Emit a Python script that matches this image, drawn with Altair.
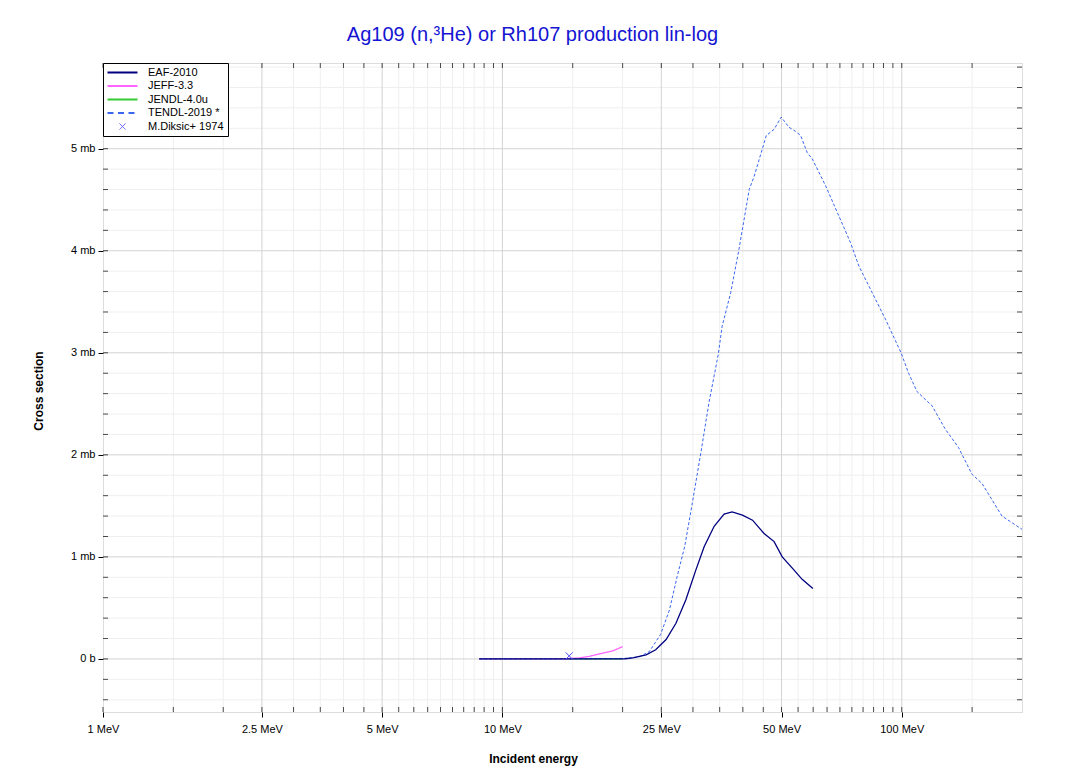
import altair as alt
import pandas as pd

TITLE = "Ag109 (n,³He) or Rh107 production lin-log"
SERIES = ["EAF-2010", "JEFF-3.3", "JENDL-4.0u", "TENDL-2019 *", "M.Diksic+ 1974"]
COLORS = ["#000080", "#ff66ff", "#33cc33", "#3a66f0", "#4b4bff"]

# Energies in MeV, cross sections in mb
EAF_E = [8.75, 12, 16, 20.3, 21.2, 22.9, 24.2, 25.7, 27.2, 28.8, 30.5, 32.0, 33.9, 35.9,
         37.6, 39.9, 42.3, 45.2, 47.9, 50.2, 53.2, 56.3, 59.9]
EAF_S = [0, 0, 0, 0.002, 0.01, 0.04, 0.09, 0.19, 0.35, 0.58, 0.87, 1.10, 1.30, 1.42,
         1.44, 1.41, 1.36, 1.23, 1.15, 1.00, 0.89, 0.78, 0.69]

JEFF_E = [8.75, 12, 14.5, 15.6, 16.5, 17.5, 18.9, 20.0]
JEFF_S = [0, 0, 0.002, 0.01, 0.025, 0.05, 0.08, 0.12]

JENDL_E = [8.75, 20.0]
JENDL_S = [0, 0]

TENDL_E = [8.75, 14, 18, 20.5, 22.0, 23.3, 24.9, 26.2, 27.4, 28.6, 29.9, 31.4, 32.9, 34.7,
           35.5, 37.3, 39.1, 41.5, 42.7, 45.8, 47.9, 49.9, 52.2, 54.2, 55.8, 58.0, 59.7,
           64.4, 69.6, 74.4, 78.1, 84.3, 91.0, 99.6, 104, 109.2, 119.1, 128.6, 138.8,
           149.9, 158.8, 178.2, 200]
TENDL_S = [0, 0, 0.002, 0.006, 0.02, 0.07, 0.24, 0.48, 0.81, 1.10, 1.53, 2.02, 2.51, 2.98,
           3.26, 3.59, 4.01, 4.60, 4.73, 5.13, 5.19, 5.31, 5.21, 5.17, 5.13, 4.96, 4.90,
           4.64, 4.34, 4.08, 3.85, 3.59, 3.33, 3.00, 2.80, 2.62, 2.48, 2.25, 2.07,
           1.81, 1.72, 1.40, 1.27]

EXP_E = [14.7]
EXP_S = [0.03]

X_MAJOR = [1, 2.5, 5, 10, 25, 50, 100]
X_MINOR = [1.5, 2, 3, 3.5, 4, 4.5, 5.5, 6, 6.5, 7, 7.5, 8, 8.5, 9, 9.5,
           15, 20, 30, 35, 40, 45, 55, 60, 65, 70, 75, 80, 85, 90, 95, 150]
Y_MAJOR = [0, 1, 2, 3, 4, 5]
Y_MINOR = [-0.4, -0.2, 0.2, 0.4, 0.6, 0.8, 1.2, 1.4, 1.6, 1.8, 2.2, 2.4, 2.6, 2.8,
           3.2, 3.4, 3.6, 3.8, 4.2, 4.4, 4.6, 4.8, 5.2, 5.4, 5.6, 5.8]

W, H = 919, 649
FONT = "Liberation Sans"
CROSS = "M-0.7,-0.7L0.7,0.7M0.7,-0.7L-0.7,0.7"
LEG_CROSS = "M1.4,-0.6L2.6,0.6M2.6,-0.6L1.4,0.6"
LEG_LINE = "M-1,0L5,0"

xscale = alt.Scale(type="log", domain=[1, 200], nice=False)
yscale = alt.Scale(domain=[-0.52, 5.84], nice=False, zero=False)

xaxis = alt.Axis(values=X_MAJOR, labelExpr="datum.value + ' MeV'", grid=False, domain=False,
                 tickSize=5, tickColor="black", labelColor="black", labelFont=FONT,
                 labelFontSize=11, labelPadding=6, title="Incident energy", titleFont=FONT,
                 titleFontSize=12, titleFontWeight="bold", titleColor="black",
                 titleX=430, titleY=46, titleBaseline="middle", titleAlign="center",
                 labelFlush=False, labelOverlap=False)
yaxis = alt.Axis(values=Y_MAJOR, labelExpr="datum.value == 0 ? '0 b' : datum.value + ' mb'",
                 grid=False, domain=False, tickSize=5, tickColor="black", labelColor="black",
                 labelFont=FONT, labelFontSize=11, labelPadding=3, title="Cross section",
                 titleFont=FONT, titleFontSize=12, titleFontWeight="bold", titleColor="black",
                 titleX=-65, titleY=H / 2 + 3, titleBaseline="middle", titleAlign="center")


def xe():
    return alt.X("E:Q", scale=xscale, axis=xaxis)


def ye():
    return alt.Y("S:Q", scale=yscale, axis=yaxis)


legend = alt.Legend(
    title=None, orient="top-left", offset=0, padding=4, fillColor="white",
    strokeColor="black", labelFontSize=11, labelFont=FONT, labelColor="black",
    symbolSize=100, rowPadding=1.5, labelOffset=30, cornerRadius=0,
    symbolType={"expr": "datum.value == 'M.Diksic+ 1974' ? '" + LEG_CROSS + "' : '" + LEG_LINE + "'"},
    symbolDash={"expr": "datum.value == 'TENDL-2019 *' ? [6, 4.5] : [1, 0]"},
    symbolStrokeWidth={"expr": "datum.value == 'M.Diksic+ 1974' ? 1 : 2"},
    symbolOpacity=1,
)


def ce():
    return alt.Color("series:N", scale=alt.Scale(domain=SERIES, range=COLORS), legend=legend)


def df(E, S, name):
    return pd.DataFrame({"E": E, "S": S, "series": name})


grid_x_minor = alt.Chart(pd.DataFrame({"E": X_MINOR})).mark_rule(color="#efefef", strokeWidth=1).encode(x=xe())
grid_x_major = alt.Chart(pd.DataFrame({"E": X_MAJOR[1:]})).mark_rule(color="#d3d3d3", strokeWidth=1).encode(x=xe())
grid_y_minor = alt.Chart(pd.DataFrame({"S": Y_MINOR})).mark_rule(color="#efefef", strokeWidth=1).encode(y=ye())
grid_y_major = alt.Chart(pd.DataFrame({"S": Y_MAJOR})).mark_rule(color="#d3d3d3", strokeWidth=1).encode(y=ye())

jendl = alt.Chart(df(JENDL_E, JENDL_S, "JENDL-4.0u")).mark_line(strokeWidth=1.3).encode(x=xe(), y=ye(), color=ce())
jeff = alt.Chart(df(JEFF_E, JEFF_S, "JEFF-3.3")).mark_line(strokeWidth=1.3).encode(x=xe(), y=ye(), color=ce())
tendl = alt.Chart(df(TENDL_E, TENDL_S, "TENDL-2019 *")).mark_line(strokeWidth=1, strokeDash=[3, 2]).encode(x=xe(), y=ye(), color=ce())
eaf = alt.Chart(df(EAF_E, EAF_S, "EAF-2010")).mark_line(strokeWidth=1.3).encode(x=xe(), y=ye(), color=ce())
exp = alt.Chart(df(EXP_E, EXP_S, "M.Diksic+ 1974")).mark_point(
    shape=CROSS, size=100, filled=False, strokeWidth=1, opacity=1).encode(x=xe(), y=ye(), color=ce())

XT = pd.DataFrame({"E": X_MAJOR + X_MINOR})
YT = pd.DataFrame({"S": Y_MAJOR + Y_MINOR})
tick_bottom = alt.Chart(XT).mark_tick(color="black", size=5, thickness=1).encode(x=xe(), y=alt.value(H - 2.5))
tick_top = alt.Chart(XT).mark_tick(color="black", size=5, thickness=1).encode(x=xe(), y=alt.value(2.5))
tick_left = alt.Chart(YT).mark_tick(color="black", size=5, thickness=1).encode(y=ye(), x=alt.value(2.5))
tick_right = alt.Chart(YT).mark_tick(color="black", size=5, thickness=1).encode(y=ye(), x=alt.value(W - 2.5))

chart = alt.layer(
    grid_x_minor, grid_y_minor, grid_x_major, grid_y_major,
    jendl, jeff, tendl, eaf, exp,
    tick_bottom, tick_top, tick_left, tick_right,
).properties(
    width=W, height=H,
    title=alt.Title(TITLE, fontSize=20, color="#1414d2", font=FONT, fontWeight="normal",
                    offset=18, dx=-30, anchor="middle"),
    padding={"left": 95, "top": 55, "right": 25, "bottom": 58},
    autosize=alt.AutoSizeParams(type="none"),
).configure_view(stroke="black", strokeWidth=1).configure(background="white")

chart.save("out.html", embed_options={"renderer": "svg", "actions": False})
